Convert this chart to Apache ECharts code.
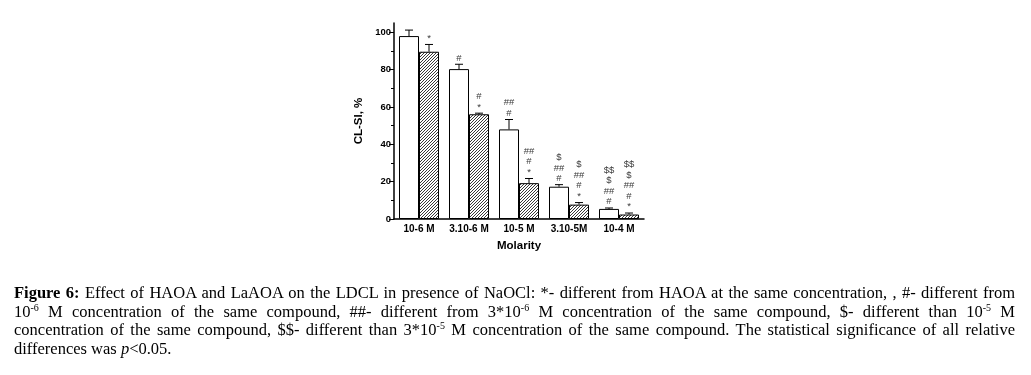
<!DOCTYPE html>
<html>
<head>
<meta charset="utf-8">
<script src="https://cdn.jsdelivr.net/npm/echarts@6/dist/echarts.min.js"></script>
<style>
  html, body { margin: 0; padding: 0; background: #fff; }
  #wrap { position: relative; width: 1031px; height: 375px; overflow: hidden; }
  #chart { position: absolute; left: 0; top: 0; width: 1031px; height: 375px; }
  #caption { position: absolute; left: 14px; top: 284px; width: 1001px;
    font-family: "Liberation Serif", "Times New Roman", serif; font-size: 16.5px; line-height: 18.7px; color: #000; }
  #caption .ln { text-align: justify; text-align-last: justify; white-space: normal; height: 18.7px; }
  #caption .last { text-align: left; text-align-last: left; }
  #caption .sp { font-size: 10px; position: relative; top: -6px; line-height: 0; }
</style>
</head>
<body>
<div id="wrap">
  <div id="chart"></div>
  <div id="caption">
    <div class="ln"><b>Figure 6:</b> Effect of HAOA and LaAOA on the LDCL in presence of NaOCl: *- different from HAOA at the same concentration, , #- different from</div>
    <div class="ln">10<span class="sp">-6</span> M concentration of the same compound, ##- different from 3*10<span class="sp">-6</span> M concentration of the same compound, $- different than 10<span class="sp">-5</span> M</div>
    <div class="ln">concentration of the same compound, $$- different than 3*10<span class="sp">-5</span> M concentration of the same compound. The statistical significance of all relative</div>
    <div class="ln last">differences was <i>p</i>&lt;0.05.</div>
  </div>
</div>
<script>
// ---- data ----
var categories = ['10-6 M', '3.10-6 M', '10-5 M', '3.10-5M', '10-4 M'];
var haoa = [98, 80.3, 48, 17.3, 5.4];
var haoaErr = [3.2, 2.6, 5.3, 1.1, 0.5];
var laaoa = [89.6, 56.1, 19.2, 7.7, 2.4];
var laaoaErr = [3.9, 0.6, 2.5, 1.1, 0.8];
var haoaMarks = ['', '#', '##\n#', '$\n##\n#', '$$\n$\n##\n#'];
var laaoaMarks = ['*', '#\n*', '##\n#\n*', '$\n##\n#\n*', '$$\n$\n##\n#\n*'];
var yTicks = [0, 20, 40, 60, 80, 100];
var yMinorTicks = [10, 30, 50, 70, 90];

// hatch pattern
var hc = document.createElement('canvas');
hc.width = 3; hc.height = 3;
var hx = hc.getContext('2d');
hx.fillStyle = '#fff'; hx.fillRect(0, 0, 3, 3);
hx.strokeStyle = '#222'; hx.lineWidth = 0.9;
hx.beginPath();
hx.moveTo(-1, 4); hx.lineTo(4, -1);
hx.moveTo(-1, 1); hx.lineTo(1, -1);
hx.moveTo(2, 4); hx.lineTo(4, 2);
hx.stroke();

var chart = echarts.init(document.getElementById('chart'), null, { renderer: 'canvas' });

function errRender(values, errs, marks, side) {
  return function (params, api) {
    var i = api.value(0);
    var band = api.size([1, 0])[0];
    var bw = band * 0.4;
    var cx = api.coord([i, 0])[0] + side * bw / 2;
    var top = api.coord([i, values[i] + errs[i]])[1];
    var base = api.coord([i, values[i]])[1];
    var cap = 4;
    var children = [
      { type: 'line', shape: { x1: cx, y1: base, x2: cx, y2: top }, style: { stroke: '#000', lineWidth: 1 } },
      { type: 'line', shape: { x1: cx - cap, y1: top, x2: cx + cap, y2: top }, style: { stroke: '#000', lineWidth: 1 } }
    ];
    if (marks[i]) {
      children.push({
        type: 'text',
        style: {
          x: cx, y: top - 1, text: marks[i], align: 'center', verticalAlign: 'bottom',
          font: '9.5px Arial, "Liberation Sans", sans-serif', lineHeight: 10.5, fill: '#3a3a3a'
        }
      });
    }
    return { type: 'group', children: children };
  };
}

var idx = categories.map(function (c, i) { return [i]; });

chart.setOption({
  animation: false,
  backgroundColor: '#fff',
  grid: { left: 394, right: 387, top: 23, bottom: 156, containLabel: false },
  xAxis: {
    type: 'category',
    data: categories,
    name: 'Molarity',
    nameLocation: 'middle',
    nameGap: 21,
    nameTextStyle: { fontFamily: 'Arial, "Liberation Sans", sans-serif', fontWeight: 'bold', fontSize: 11.5, color: '#000' },
    axisLine: { lineStyle: { color: '#000', width: 1.5 } },
    axisTick: { show: false },
    axisLabel: { interval: 0, fontFamily: 'Arial, "Liberation Sans", sans-serif', fontWeight: 'bold', fontSize: 10, color: '#000', margin: 5 }
  },
  yAxis: [{
    type: 'value',
    min: 0, max: 105, interval: 20,
    name: 'CL-SI, %',
    nameLocation: 'middle',
    nameGap: 29,
    nameTextStyle: { fontFamily: 'Arial, "Liberation Sans", sans-serif', fontWeight: 'bold', fontSize: 11.5, color: '#000' },
    axisLine: { show: true, lineStyle: { color: '#000', width: 1.5 } },
    axisTick: { show: true, inside: false, length: 5, lineStyle: { color: '#000', width: 1 }, customValues: yTicks },
    axisLabel: { fontFamily: 'Arial, "Liberation Sans", sans-serif', fontWeight: 'bold', fontSize: 9.5, color: '#000', margin: 3, customValues: yTicks },
    splitLine: { show: false }
  }, {
    type: 'value',
    min: 0, max: 105, interval: 20,
    position: 'left',
    axisLine: { show: false },
    axisTick: { show: true, length: 3, lineStyle: { color: '#000', width: 1 }, customValues: yMinorTicks },
    axisLabel: { show: false, customValues: yMinorTicks },
    splitLine: { show: false }
  }],
  series: [
    {
      name: 'HAOA', type: 'bar', data: haoa, barWidth: 20, barGap: '0%',
      itemStyle: { color: '#fff', borderColor: '#000', borderWidth: 1 }
    },
    {
      name: 'LaAOA', type: 'bar', data: laaoa, barWidth: 20, barGap: '0%',
      itemStyle: { color: { image: hc, repeat: 'repeat' }, borderColor: '#000', borderWidth: 1 }
    },
    {
      type: 'custom', data: idx, renderItem: errRender(haoa, haoaErr, haoaMarks, -1), z: 5
    },
    {
      type: 'custom', data: idx, renderItem: errRender(laaoa, laaoaErr, laaoaMarks, 1), z: 5
    }
  ]
});
</script>
</body>
</html>
